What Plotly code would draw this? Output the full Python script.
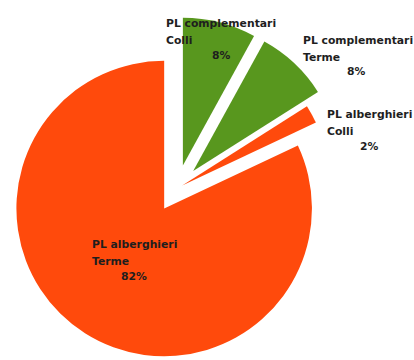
import plotly.graph_objects as go

# Posti letto (PL) shares by type and area, listed clockwise from 12 o'clock
names = ["PL complementari Colli", "PL complementari Terme",
         "PL alberghieri Colli", "PL alberghieri Terme"]
line1 = ["PL complementari", "PL complementari", "PL alberghieri", "PL alberghieri"]
line2 = ["Colli", "Terme", "Colli", "Terme"]
shares = [8, 8, 2, 82]
colors = ["#58971E", "#58971E", "#FF4A0C", "#FF4A0C"]
pulls = [0.16, 0.16, 0.04, 0.162]

W, H = 414, 360

fig = go.Figure(go.Pie(
    labels=names,
    values=shares,
    sort=False,
    direction="clockwise",
    rotation=0,
    pull=pulls,
    marker=dict(colors=colors, line=dict(width=0)),
    textinfo="none",
    showlegend=False,
    hoverinfo="label+percent",
    domain=dict(x=[5.3 / W, 348.7 / W], y=[0, 1 - 16.6 / H]),
))

# label anchor points (pixels): name x, first line y, percent centre x, percent y
label_pos = [
    (164, 23, 221, 55),
    (301, 40, 356, 72),
    (325, 114, 369, 146),
    (90, 244, 134, 276),
]

font = dict(family="DejaVu Sans", size=10.8, color="#1E1E1E", weight="bold")
ann = []
for i, (nx, ny, px, py) in enumerate(label_pos):
    for txt, y in ((line1[i], ny), (line2[i], ny + 17)):
        ann.append(dict(x=nx / W, y=1 - y / H, xref="paper", yref="paper",
                        text=txt, showarrow=False, xanchor="left", yanchor="middle",
                        font=font))
    ann.append(dict(x=px / W, y=1 - py / H, xref="paper", yref="paper",
                    text=f"{shares[i]}%", showarrow=False, xanchor="center",
                    yanchor="middle", font=font))

fig.update_layout(
    width=W, height=H,
    margin=dict(l=0, r=0, t=0, b=0),
    paper_bgcolor="white",
    plot_bgcolor="white",
    annotations=ann,
)

fig.write_html("out.html")
